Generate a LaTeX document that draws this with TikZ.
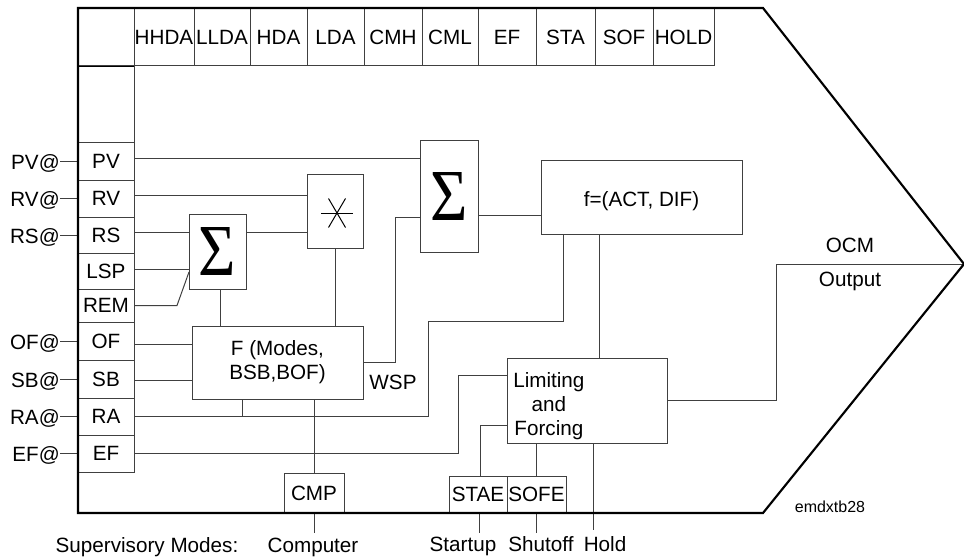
\documentclass[tikz,border=0pt]{standalone}
\usepackage{fontspec}
\setmainfont{Liberation Sans}
\newfontfamily\sigfont{Liberation Serif}
\usepackage{graphicx}
\usetikzlibrary{calc}
\newcommand\dfs{\fontsize{15.5}{18}\selectfont}
\newcommand\sfs{\fontsize{12}{14}\selectfont}
\newcommand\bigsig{\resizebox*{28pt}{36pt}{\sigfont Σ}}
\tikzset{
  ln/.style={draw=black!75,line width=0.75pt},
  bx/.style={draw=black!75,line width=0.75pt,rectangle,inner sep=0pt,outer sep=0pt,anchor=north west,font=\dfs,align=center},
  lbl/.style={inner sep=0pt,font=\dfs,align=center},
  outer/.style={draw=black,line width=1.6pt,line join=miter},
}
\newcommand\bxat[6]{\node[bx,minimum width={(#4-#2)*0.75pt},minimum height={(#5-#3)*0.75pt}] (#1) at (#2,#3) {#6};}
\begin{document}
\begin{tikzpicture}[x=0.75pt,y=-0.75pt]
\useasboundingbox (0,0) rectangle (964,560);
% header row
\bxat{h0}{78}{8}{134}{66}{}
\bxat{hA}{134}{8}{194}{66}{HHDA}
\bxat{hB}{194}{8}{250}{66}{LLDA}
\bxat{hC}{250}{8}{307}{66}{HDA}
\bxat{hD}{307}{8}{364}{66}{LDA}
\bxat{hE}{364}{8}{422}{66}{CMH}
\bxat{hF}{422}{8}{478}{66}{CML}
\bxat{hG}{478}{8}{536}{66}{EF}
\bxat{hH}{536}{8}{595}{66}{STA}
\bxat{hI}{595}{8}{653}{66}{SOF}
\bxat{hJ}{653}{8}{714}{66}{HOLD}
\draw[line width=1.3pt] (h0.south west) -- (h0.south east);
% left column
\bxat{c0}{78}{66}{134}{142}{}
\bxat{cPV}{78}{142}{134}{180}{PV}
\bxat{cRV}{78}{180}{134}{217}{RV}
\bxat{cRS}{78}{217}{134}{253}{RS}
\bxat{cLSP}{78}{253}{134}{289}{LSP}
\bxat{cREM}{78}{289}{134}{322}{REM}
\bxat{cOF}{78}{322}{134}{360}{OF}
\bxat{cSB}{78}{360}{134}{398}{SB}
\bxat{cRA}{78}{398}{134}{435}{RA}
\bxat{cEF}{78}{435}{134}{472}{EF}
% input labels
\foreach \c in {PV,RV,RS,OF,SB,RA,EF}{
  \node[lbl,anchor=base east] (i\c) at ($(c\c.west)+(-18,8)$) {\c@};
  \draw[ln] (c\c.west -| i\c.east) -- (c\c.west);
}
% function blocks
\bxat{sigS}{189}{214}{246}{289}{\bigsig}
\bxat{star}{307}{174}{363}{248}{}
\bxat{sigB}{420}{140}{478}{252}{\bigsig}
\bxat{fbox}{192}{326}{363}{399}{F (Modes,\\BSB,BOF)}
\node[bx,minimum width={201*0.75pt},minimum height={74*0.75pt},text height=18pt,text depth=3.3pt] (fact) at (541,160) {f=(ACT, DIF)};
\bxat{lim}{507}{358}{667}{443}{}
\node[lbl,anchor=west] (limT) at ($(lim.west)+(6,5.5)$) {Limiting\\and\\Forcing};
\bxat{cmp}{284}{473}{344}{513}{CMP}
\bxat{stae}{449}{476}{507}{513}{STAE}
\bxat{sofe}{507}{476}{566}{513}{SOFE}
% asterisk in multiplier
\coordinate (sc) at ($(star.center)+(2,2)$);
\draw[black,line width=0.75pt] (sc) +(-16,0) -- +(16,0);
\draw[black,line width=0.75pt] (sc) +(-8.5,-14.5) -- +(8.5,14.5);
\draw[black,line width=0.75pt] (sc) +(-8.5,14.5) -- +(8.5,-14.5);
% connectors
\coordinate (pPV) at ($(cPV.east)+(0,-3)$);
\draw[ln] (pPV) -- (pPV -| sigB.west);
\coordinate (pRV) at ($(cRV.east)+(0,-3.5)$);
\draw[ln] (pRV) -- (pRV -| star.west);
\coordinate (pRS) at ($(cRS.east)+(0,-3)$);
\draw[ln] (pRS) -- (pRS -| sigS.west);
\coordinate (pLSP) at ($(cLSP.east)+(0,-2)$);
\draw[ln] (pLSP) -- (pLSP -| sigS.west);
\draw[ln] (cREM.east) -- ++(43,0) -- ($(sigS.south west)+(0,-17)$);
\coordinate (pS) at (pRS -| sigS.east);
\draw[ln] (pS) -- (pS -| star.west);
\coordinate (pSd) at ($(sigS.south)+(2.5,0)$);
\draw[ln] (pSd) -- (pSd |- fbox.north);
\draw[ln] (star.south) -- (star.south |- fbox.north);
\coordinate (pOF) at ($(cOF.east)+(0,3)$);
\draw[ln] (pOF) -- (pOF -| fbox.west);
\coordinate (pSB) at ($(cSB.east)+(0,1)$);
\draw[ln] (pSB) -- (pSB -| fbox.west);
\coordinate (wB) at ($(sigB.south west)+(-25,-35)$);
\draw[ln] (fbox.east) -| (wB) -- (wB -| sigB.west);
\node[lbl,anchor=base] (lWSP) at (393,389) {WSP};
\coordinate (sO) at ($(sigB.south east)+(0,-37)$);
\draw[ln] (sO) -- (sO -| fact.west);
\coordinate (raB) at ($(fact.south west)+(-113,87)$);
\draw[ln] (cRA.east) -| (raB) -| ($(fact.south west)+(22,0)$);
\coordinate (fb1) at ($(fbox.south west)+(50,0)$);
\draw[ln] (fb1) -- (fb1 |- cRA.east);
\draw[ln] (cmp.north |- fbox.south) -- (cmp.north);
\draw[ln] (cmp.south) -- ++(0,20);
\coordinate (efB) at ($(lim.north west)+(-49,17)$);
\draw[ln] (cEF.east) -| (efB) -- (efB -| lim.west);
\coordinate (fl) at ($(fact.south west)+(58,0)$);
\draw[ln] (fl) -- (fl |- lim.north);
\coordinate (ls) at ($(lim.south west)+(0,-18)$);
\draw[ln] (ls) -| ($(stae.north west)+(31,0)$);
\draw[ln] (sofe.north) -- (sofe.north |- lim.south);
\coordinate (hd) at ($(lim.south west)+(86,0)$);
\draw[ln] (hd) -- ++(0,87);
\draw[ln] ($(stae.south west)+(30,0)$) -- ++(0,20);
\draw[ln] (sofe.south) -- ++(0,20);
\coordinate (tip) at (964,264);
\coordinate (oc) at (776,264);
\draw[ln] (lim.east) -| (oc) -- (tip);
% outline
\draw[outer] (78,8) -- (763,8) -- (tip) -- (763,513) -- (78,513) -- cycle;
% labels
\node[lbl,anchor=base] (lOCM) at (850,252) {OCM};
\node[lbl,anchor=base] (lOut) at (850,286) {Output};
\node[lbl,anchor=base,font=\sfs] (lid) at (830,512) {emdxtb28};
\node[lbl,anchor=base] (lSup) at (147,552) {Supervisory Modes:};
\node[lbl,anchor=base] (lComp) at (313,552) {Computer};
\node[lbl,anchor=base] (lStart) at (463,551) {Startup};
\node[lbl,anchor=base] (lShut) at (541,551) {Shutoff};
\node[lbl,anchor=base] (lHold) at (605,551) {Hold};
\end{tikzpicture}
\end{document}
